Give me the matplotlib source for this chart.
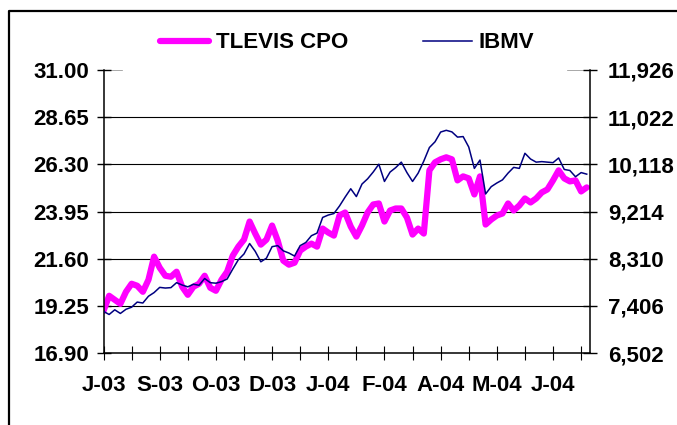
import matplotlib
matplotlib.use("Agg")
import matplotlib.pyplot as plt
import numpy as np
from matplotlib.lines import Line2D

# values, one every 3 trading days
tlevis = [19.00, 19.75, 19.55, 19.35, 19.95, 20.35, 20.25, 19.95, 20.55, 21.70,
          21.15, 20.75, 20.70, 20.95, 20.20, 19.80, 20.20, 20.35, 20.75, 20.15,
          20.00, 20.55, 20.95, 21.75, 22.20, 22.55, 23.45, 22.85, 22.30, 22.55,
          23.25, 22.50, 21.50, 21.30, 21.40, 22.00, 22.20, 22.35, 22.20, 23.10,
          22.90, 22.75, 23.75, 23.90, 23.20, 22.70, 23.25, 23.90, 24.30, 24.35,
          23.45, 24.00, 24.10, 24.10, 23.65, 22.80, 23.10, 22.85, 26.00, 26.40,
          26.55, 26.65, 26.55, 25.50, 25.70, 25.60, 24.80, 25.70, 23.30, 23.55,
          23.75, 23.85, 24.35, 24.00, 24.25, 24.60, 24.40, 24.60, 24.90, 25.05,
          25.50, 26.00, 25.60, 25.45, 25.50, 24.95, 25.15]

ibmv = [7300, 7240, 7330, 7260, 7340, 7380, 7478, 7460, 7590, 7660,
        7760, 7747, 7755, 7850, 7805, 7770, 7820, 7800, 7930, 7850,
        7840, 7870, 7920, 8110, 8290, 8400, 8600, 8450, 8250, 8320,
        8540, 8560, 8460, 8418, 8360, 8560, 8620, 8750, 8800, 9100,
        9146, 9175, 9320, 9490, 9650, 9500, 9740, 9840, 9971, 10120,
        9790, 9970, 10055, 10160, 9960, 9790, 9950, 10180, 10440, 10550,
        10737, 10770, 10740, 10640, 10650, 10450, 10040, 10200, 9550, 9690,
        9760, 9820, 9950, 10060, 10040, 10330, 10220, 10160, 10170, 10160,
        10150, 10240, 10020, 10000, 9880, 9960, 9930]

left_ticks = [16.90, 19.25, 21.60, 23.95, 26.30, 28.65, 31.00]
right_ticks = [6502, 7406, 8310, 9214, 10118, 11022, 11926]
month_labels = ["J-03", "S-03", "O-03", "D-03", "J-04", "F-04", "A-04", "M-04", "J-04"]

plt.rcParams['font.family'] = ['Liberation Sans', 'DejaVu Sans']
plt.rcParams['font.weight'] = 'bold'

fig = plt.figure(figsize=(6.77, 4.25), dpi=100)
ax = fig.add_axes([0.1529, 0.1694, 0.7193, 0.6659])
ax2 = ax.twinx()

x = np.arange(len(tlevis)) * 3.0

for v in left_ticks[1:-1]:
    ax.axhline(v, color='black', lw=0.8, zorder=0)
ax.axhline(31.0, xmin=0, xmax=0.038, color='#999999', lw=1.2, zorder=0)
ax.axhline(31.0, xmin=0.954, xmax=1, color='#999999', lw=1.2, zorder=0)

ax.plot(x, tlevis, color='#ff00ff', lw=4.5, solid_capstyle='round', label='TLEVIS CPO', zorder=2)
ax2.plot(x, ibmv, color='#000080', lw=1.1, label='IBMV', zorder=3)

ax.set_xlim(0, 260)
ax.set_ylim(16.90, 31.00)
ax2.set_ylim(6502, 11926)

xt = list(range(0, 256, 15))
ax.set_xticks(xt)
ax.set_xticklabels([month_labels[i // 2] if i % 2 == 0 else '' for i in range(len(xt))])
ax.set_yticks(left_ticks)
ax.set_yticklabels(["%.2f" % v for v in left_ticks])
ax2.set_yticks(right_ticks)
ax2.set_yticklabels(["{:,}".format(v) for v in right_ticks])

for a in (ax, ax2):
    a.spines['top'].set_visible(False)
    for s in a.spines.values():
        s.set_linewidth(1.1)
ax.spines['right'].set_visible(False)
ax2.spines['left'].set_visible(False)
ax2.spines['bottom'].set_visible(False)

ax.tick_params(axis='x', direction='inout', length=10, width=0.8, labelsize=16, pad=11)
ax.tick_params(axis='y', direction='inout', length=10, width=1.0, labelsize=16, pad=5.4)
ax2.tick_params(axis='y', direction='inout', length=10, width=1.0, labelsize=16, pad=7.6)
for lab in ax.get_xticklabels() + ax.get_yticklabels() + ax2.get_yticklabels():
    lab.set_fontweight('bold')

# legend above the plot
h1, l1 = ax.get_legend_handles_labels()
h2, l2 = ax2.get_legend_handles_labels()
fig.legend(h1 + h2, l1 + l2, ncol=2, loc='center', bbox_to_anchor=(0.513, 0.899),
           frameon=False, handlelength=2.2, handletextpad=0.3, columnspacing=3.4,
           prop={'size': 16, 'weight': 'bold'})

# outer frame of the chart (partly cut off)
fig.add_artist(Line2D([9 / 677, 9 / 677, 1], [0, 1 - 11 / 425, 1 - 11 / 425],
                      transform=fig.transFigure, color='black', lw=1.6))

fig.savefig("out.png", dpi=100)
